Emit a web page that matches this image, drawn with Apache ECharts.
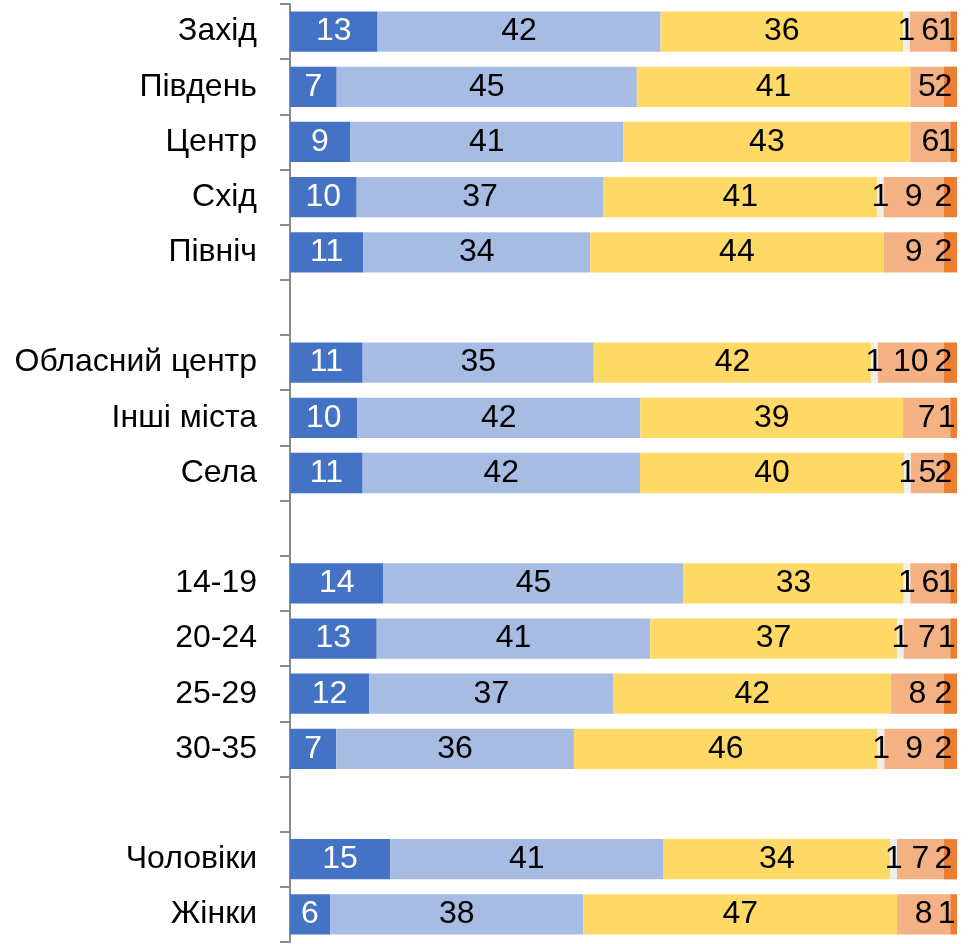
<!DOCTYPE html>
<html>
<head>
<meta charset="utf-8">
<script src="https://cdn.jsdelivr.net/npm/echarts@6/dist/echarts.min.js"></script>
<style>
  html, body { margin: 0; padding: 0; background: #fff; }
  #chart { width: 973px; height: 944px; }
</style>
</head>
<body>
<div id="chart"></div>
<script>
(function(){
  'use strict';

  // rows top to bottom, '' = spacer row between groups
  var categories = ['Захід','Південь','Центр','Схід','Північ','',
    'Обласний центр','Інші міста','Села','',
    '14-19','20-24','25-29','30-35','',
    'Чоловіки','Жінки'];

  var s1 = [13, 7, 9, 10, 11, null, 11, 10, 11, null, 14, 13, 12, 7, null, 15, 6];
  var s2 = [42, 45, 41, 37, 34, null, 35, 42, 42, null, 45, 41, 37, 36, null, 41, 38];
  var s3 = [36, 41, 43, 41, 44, null, 42, 39, 40, null, 33, 37, 42, 46, null, 34, 47];
  var s4 = [1, 0, 0, 1, 0, null, 1, 0, 1, null, 1, 1, 0, 1, null, 1, 0];
  var s5 = [6, 5, 6, 9, 9, null, 10, 7, 5, null, 6, 7, 8, 9, null, 7, 8];
  var s6 = [1, 2, 1, 2, 2, null, 2, 1, 2, null, 1, 1, 2, 2, null, 2, 1];

  var allSeries = [s1, s2, s3, s4, s5, s6];
  var colors = ['#4472C4', '#A7BCE3', '#FFD966', '#EFEFEF', '#F4B183', '#ED7D31'];
  var labelColors = ['#fff', '#000', '#000', '#000', '#000', '#000'];
  var labelShift = [0, 0, 0, 0, 0, -7];

  var font = "'Liberation Sans', Arial, sans-serif";

  // 100% stacked: each row scaled to its own total
  var totals = categories.map(function(c, i){
    var t = 0;
    allSeries.forEach(function(s){ t += (s[i] || 0); });
    return t;
  });

  var chart = echarts.init(document.getElementById('chart'));

  var series = allSeries.map(function(arr, k){
    return {
      type: 'bar',
      stack: 'all',
      barCategoryGap: '27%',
      itemStyle: { color: colors[k] },
      label: {
        show: true,
        position: 'inside',
        offset: [labelShift[k], 0],
        color: labelColors[k],
        fontFamily: font,
        fontSize: 32,
        formatter: function(p){
          var v = arr[p.dataIndex];
          return v ? String(v) : '';
        }
      },
      data: arr.map(function(v, i){
        return v == null ? null : v / totals[i] * 100;
      })
    };
  });

  var option = {
    animation: false,
    grid: { left: 290, right: 16, top: 4, bottom: 2, outerBoundsMode: 'none', containLabel: false },
    xAxis: {
      type: 'value', min: 0, max: 100, show: false
    },
    yAxis: {
      type: 'category',
      inverse: true,
      data: categories,
      axisLine: { show: true, lineStyle: { color: '#8C8C8C', width: 2 } },
      axisTick: { show: true, length: 10, lineStyle: { color: '#8C8C8C', width: 2 } },
      axisLabel: {
        color: '#000',
        fontFamily: font,
        fontSize: 32,
        margin: 33,
        interval: 0
      }
    },
    series: series
  };

  chart.setOption(option);
})();
</script>
</body>
</html>
